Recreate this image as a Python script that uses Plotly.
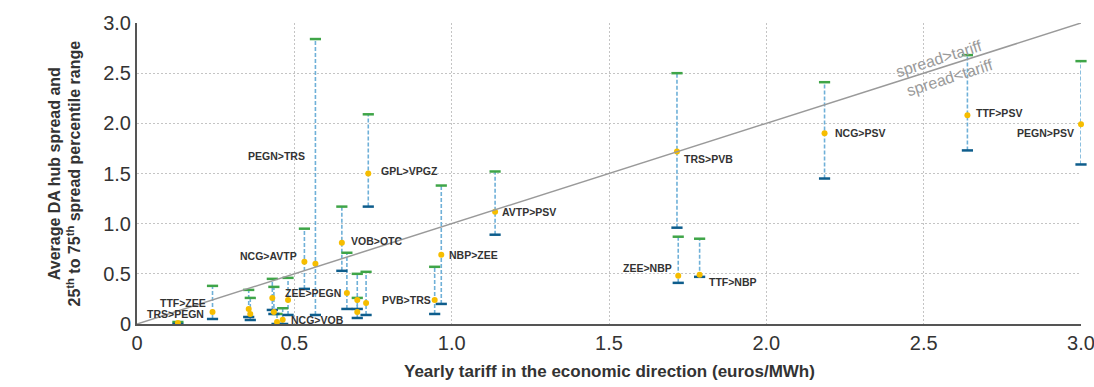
import plotly.graph_objects as go

# ---------------- data ----------------
names = ["TRS>PEGN", "TTF>ZEE", "", "", "", "", "", "NCG>VOB", "", "NCG>AVTP",
         "PEGN>TRS", "VOB>OTC", "ZEE>PEGN", "", "", "", "GPL>VPGZ", "PVB>TRS", "NBP>ZEE",
         "AVTP>PSV", "TRS>PVB", "ZEE>NBP", "TTF>NBP", "NCG>PSV", "TTF>PSV", "PEGN>PSV"]
tariff = [0.13, 0.24, 0.355, 0.36, 0.43, 0.435, 0.445, 0.463, 0.48, 0.532,
          0.567, 0.651, 0.667, 0.70, 0.70, 0.728, 0.735, 0.946, 0.967,
          1.138, 1.716, 1.72, 1.788, 2.185, 2.639, 3.0]
avg_spread = [0.01, 0.12, 0.15, 0.10, 0.26, 0.12, 0.02, 0.043, 0.24, 0.62,
              0.60, 0.81, 0.31, 0.24, 0.12, 0.21, 1.50, 0.24, 0.69,
              1.12, 1.72, 0.48, 0.49, 1.90, 2.08, 1.99]
p25 = [0.0, 0.05, 0.07, 0.04, 0.14, 0.10, 0.0, 0.0, 0.09, 0.35,
       0.09, 0.53, 0.15, 0.15, 0.06, 0.09, 1.17, 0.10, 0.20,
       0.89, 0.96, 0.41, 0.47, 1.45, 1.73, 1.59]
p75 = [0.02, 0.38, 0.34, 0.26, 0.45, 0.37, 0.10, 0.157, 0.46, 0.95,
       2.84, 1.17, 0.71, 0.50, 0.26, 0.52, 2.09, 0.57, 1.38,
       1.52, 2.50, 0.87, 0.85, 2.41, 2.68, 2.62]
tick_vals = [0, 0.5, 1.0, 1.5, 2.0, 2.5, 3.0]
tick_text = ["0", "0.5", "1.0", "1.5", "2.0", "2.5", "3.0"]

# label placement: name -> (xanchor, xshift px, yshift px)
label_pos = {
    "TRS>PEGN": ("right", 28, 9),
    "TTF>ZEE": ("right", -5, 9),
    "NCG>VOB": ("left", 6, 0),
    "NCG>AVTP": ("right", -5, 6),
    "PEGN>TRS": ("right", -8, 108),
    "VOB>OTC": ("left", 7, 2),
    "ZEE>PEGN": ("right", -4, 0),
    "GPL>VPGZ": ("left", 11, 3),
    "PVB>TRS": ("right", -2, 0),
    "NBP>ZEE": ("left", 6, 0),
    "AVTP>PSV": ("left", 5, 0),
    "TRS>PVB": ("left", 5, -8),
    "ZEE>NBP": ("right", -4, 8),
    "TTF>NBP": ("left", 7, -7),
    "NCG>PSV": ("left", 8, 0),
    "TTF>PSV": ("left", 7, 2),
    "PEGN>PSV": ("right", -5, -9),
}

FONT = "Liberation Sans, Arial, sans-serif"

fig = go.Figure()

# dashed vertical ranges
lx, ly = [], []
for x, lo, hi in zip(tariff, p25, p75):
    lx += [x, x, None]
    ly += [lo, hi, None]
fig.add_trace(go.Scatter(x=lx, y=ly, mode="lines",
                         line=dict(color="#6fb0d8", width=1.6, dash="4px,2px"),
                         hoverinfo="skip", showlegend=False))
# 75th cap (green)
fig.add_trace(go.Scatter(x=tariff, y=p75, mode="markers", cliponaxis=False,
                         marker=dict(symbol="line-ew", size=8,
                                     line=dict(color="#3fa548", width=2.5)),
                         showlegend=False))
# 25th cap (dark blue)
fig.add_trace(go.Scatter(x=tariff, y=p25, mode="markers", cliponaxis=False,
                         marker=dict(symbol="line-ew", size=8,
                                     line=dict(color="#0e5d8c", width=2.5)),
                         showlegend=False))
# average dot
fig.add_trace(go.Scatter(x=tariff, y=avg_spread, mode="markers", cliponaxis=False,
                         marker=dict(symbol="circle", size=6, color="#f6bd00"),
                         showlegend=False))

# diagonal
fig.add_shape(type="line", x0=0, y0=0, x1=3.0, y1=3.0, xref="x", yref="y",
              line=dict(color="#9a9a9a", width=1.5))

# point labels
for n, x, y in zip(names, tariff, avg_spread):
    if n in label_pos:
        xa, xs, ys = label_pos[n]
        fig.add_annotation(x=x, y=y, text=n, showarrow=False, xanchor=xa,
                           yanchor="middle", xshift=xs, yshift=ys,
                           font=dict(family=FONT, size=10.5, color="#333333", weight="bold"))

# spread labels
fig.add_annotation(x=2.55, y=2.55, text="spread>tariff", showarrow=False,
                   textangle=-17.7, yshift=10, font=dict(family=FONT, size=16, color="#9a9a9a"))
fig.add_annotation(x=2.584, y=2.584, text="spread<tariff", showarrow=False,
                   textangle=-17.7, yshift=-13, font=dict(family=FONT, size=16, color="#9a9a9a"))

# axis titles
fig.add_annotation(x=0, y=0.5, xref="paper", yref="paper", showarrow=False,
                   text="<b>Average DA hub spread and<br>25<sup>th</sup> to 75<sup>th</sup> spread percentile range</b>",
                   textangle=-90, xanchor="center", yanchor="middle", xshift=-73,
                   font=dict(family=FONT, size=16, color="#333333"))
fig.add_annotation(x=0.5, y=0, xref="paper", yref="paper", showarrow=False,
                   text="<b>Yearly tariff in the economic direction (euros/MWh)</b>",
                   xanchor="center", yanchor="middle", yshift=-47,
                   font=dict(family=FONT, size=17, color="#333333"))

axis_common = dict(tickvals=tick_vals, ticktext=tick_text, showgrid=True,
                   gridcolor="#c4c4c4", griddash="2px,2px", gridwidth=1,
                   zeroline=False, showline=True, linecolor="#555555", linewidth=2,
                   tickfont=dict(family=FONT, size=20, color="#333333"),
                   ticks="", automargin=False, ticklabeloverflow="allow")
fig.update_xaxes(range=[0, 3.0], **axis_common)
fig.update_yaxes(range=[0, 3.0], **axis_common)

fig.update_layout(width=1094, height=387, margin=dict(l=137, r=13, t=23, b=63),
                  plot_bgcolor="white", paper_bgcolor="white", showlegend=False)

# remove the default 8px page margin so the figure fills the 1094x387 window
fig.write_html("out.html", config={"displayModeBar": False},
               post_script="document.body.style.margin='0px';")
